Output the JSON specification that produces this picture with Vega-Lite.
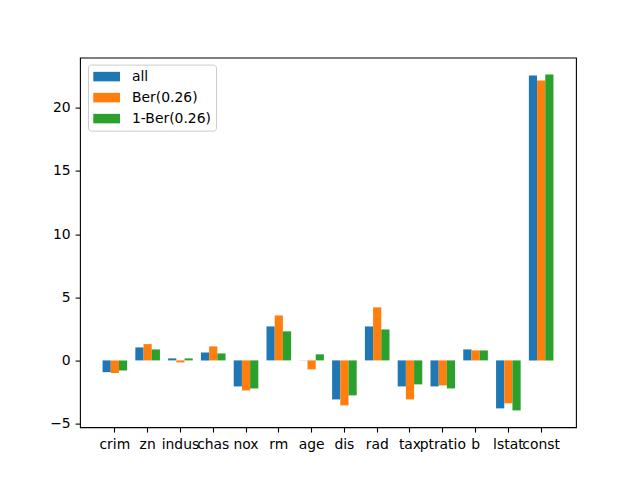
{
  "$schema": "https://vega.github.io/schema/vega-lite/v6.json",
  "autosize": {"type": "none"},
  "width": 496,
  "height": 369.6,
  "padding": {"left": 80, "top": 57.6, "right": 64, "bottom": 52.8},
  "background": "white",
  "config": {
    "font": "DejaVu Sans",
    "view": {"stroke": "black", "strokeWidth": 1.1},
    "axis": {
      "domain": false,
      "grid": false,
      "tickColor": "black",
      "tickSize": 4.9,
      "tickWidth": 1.1,
      "labelFontSize": 13.9,
      "labelColor": "black",
      "labelPadding": 4.9,
      "title": null
    }
  },
  "data": {
    "values": [
      {"var": "crim", "series": "all", "value": -0.93},
      {"var": "crim", "series": "Ber(0.26)", "value": -1.0},
      {"var": "crim", "series": "1-Ber(0.26)", "value": -0.79},
      {"var": "zn", "series": "all", "value": 1.03},
      {"var": "zn", "series": "Ber(0.26)", "value": 1.29},
      {"var": "zn", "series": "1-Ber(0.26)", "value": 0.87},
      {"var": "indus", "series": "all", "value": 0.16},
      {"var": "indus", "series": "Ber(0.26)", "value": -0.16},
      {"var": "indus", "series": "1-Ber(0.26)", "value": 0.16},
      {"var": "chas", "series": "all", "value": 0.63},
      {"var": "chas", "series": "Ber(0.26)", "value": 1.11},
      {"var": "chas", "series": "1-Ber(0.26)", "value": 0.55},
      {"var": "nox", "series": "all", "value": -2.06},
      {"var": "nox", "series": "Ber(0.26)", "value": -2.38},
      {"var": "nox", "series": "1-Ber(0.26)", "value": -2.22},
      {"var": "rm", "series": "all", "value": 2.69},
      {"var": "rm", "series": "Ber(0.26)", "value": 3.56},
      {"var": "rm", "series": "1-Ber(0.26)", "value": 2.3},
      {"var": "age", "series": "all", "value": 0.01},
      {"var": "age", "series": "Ber(0.26)", "value": -0.71},
      {"var": "age", "series": "1-Ber(0.26)", "value": 0.48},
      {"var": "dis", "series": "all", "value": -3.09},
      {"var": "dis", "series": "Ber(0.26)", "value": -3.56},
      {"var": "dis", "series": "1-Ber(0.26)", "value": -2.77},
      {"var": "rad", "series": "all", "value": 2.69},
      {"var": "rad", "series": "Ber(0.26)", "value": 4.2},
      {"var": "rad", "series": "1-Ber(0.26)", "value": 2.45},
      {"var": "tax", "series": "all", "value": -2.06},
      {"var": "tax", "series": "Ber(0.26)", "value": -3.09},
      {"var": "tax", "series": "1-Ber(0.26)", "value": -1.9},
      {"var": "ptratio", "series": "all", "value": -2.06},
      {"var": "ptratio", "series": "Ber(0.26)", "value": -1.98},
      {"var": "ptratio", "series": "1-Ber(0.26)", "value": -2.22},
      {"var": "b", "series": "all", "value": 0.87},
      {"var": "b", "series": "Ber(0.26)", "value": 0.79},
      {"var": "b", "series": "1-Ber(0.26)", "value": 0.79},
      {"var": "lstat", "series": "all", "value": -3.8},
      {"var": "lstat", "series": "Ber(0.26)", "value": -3.4},
      {"var": "lstat", "series": "1-Ber(0.26)", "value": -3.96},
      {"var": "const", "series": "all", "value": 22.57},
      {"var": "const", "series": "Ber(0.26)", "value": 22.17},
      {"var": "const", "series": "1-Ber(0.26)", "value": 22.65}
    ]
  },
  "mark": {"type": "bar"},
  "encoding": {
    "x": {
      "field": "var",
      "type": "nominal",
      "sort": null,
      "scale": {"paddingInner": 0.25, "paddingOuter": 0.6875},
      "axis": {"labelAngle": 0, "labelOverlap": false, "labelFlush": false, "labelLimit": 0}
    },
    "xOffset": {
      "field": "series",
      "type": "nominal",
      "sort": ["all", "Ber(0.26)", "1-Ber(0.26)"],
      "scale": {"paddingInner": 0, "paddingOuter": 0}
    },
    "y": {
      "field": "value",
      "type": "quantitative",
      "scale": {"domain": [-5.29, 23.98], "nice": false, "zero": false},
      "axis": {"values": [-5, 0, 5, 10, 15, 20]}
    },
    "y2": {"datum": 0},
    "color": {
      "field": "series",
      "type": "nominal",
      "scale": {
        "domain": ["all", "Ber(0.26)", "1-Ber(0.26)"],
        "range": ["#1f77b4", "#ff7f0e", "#2ca02c"]
      },
      "legend": {
        "title": null,
        "orient": "none",
        "legendX": 8,
        "legendY": 7,
        "padding": 5,
        "strokeColor": "#cccccc",
        "fillColor": "rgba(255,255,255,0.8)",
        "cornerRadius": 3,
        "symbolType": "M-0.96,-0.68H2.86V0.68H-0.96Z",
        "symbolSize": 196,
        "symbolStrokeWidth": 0,
        "symbolOpacity": 1,
        "labelFontSize": 13.9,
        "labelColor": "black",
        "labelOffset": 25,
        "rowPadding": 7
      }
    }
  }
}
